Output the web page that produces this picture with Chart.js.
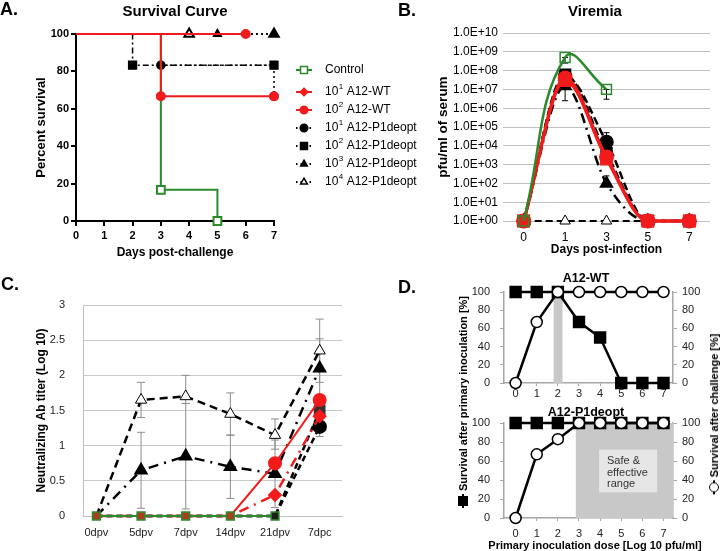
<!DOCTYPE html>
<html>
<head>
<meta charset="utf-8">
<script src="https://cdn.jsdelivr.net/npm/chart.js@4.4.1/dist/chart.umd.min.js"></script>
<style>
  body { margin: 0; background: #fff; font-family: "Liberation Sans", Arial, sans-serif; }
  #wrap { position: relative; width: 720px; height: 551px; overflow: hidden; }
  canvas { position: absolute; }
  .t { position: absolute; white-space: nowrap; color: #000; font-weight: bold; transform: translate(-50%, -50%); }
  .pl { position: absolute; font-weight: bold; font-size: 18px; transform: translate(0, -50%); }
  .rot { transform: translate(-50%, -50%) rotate(-90deg); font-size: 11px; }
  .mk { display: inline-block; position: relative; width: 14px; height: 10px; vertical-align: -1px; margin-right: 3px; }
  .mk:before { content: ""; position: absolute; left: 0; right: 0; top: 4px; height: 2px; background: #000; }
  .mk:after { content: ""; position: absolute; left: 2px; top: 0; width: 10px; height: 10px; background: #000; }
  .mk.o:after { background: #fff; border: 1.5px solid #000; border-radius: 50%; width: 8px; height: 8px; left: 1.5px; }
  .note { position: absolute; font-size: 11px; line-height: 11.5px; color: #333; }
</style>
</head>
<body>
<div id="wrap">
  <canvas id="cA" width="430" height="265" style="left:0;top:0"></canvas>
  <canvas id="cB" width="290" height="265" style="left:430px;top:0"></canvas>
  <canvas id="cC" width="360" height="276" style="left:0;top:275px"></canvas>
  <canvas id="cD1" width="280" height="130" style="left:440px;top:270px"></canvas>
  <canvas id="cD2" width="280" height="140" style="left:440px;top:401px"></canvas>

  <div class="pl" style="left:0;top:9px">A.</div>
  <div class="t" style="left:175px;top:10px;font-size:15px">Survival Curve</div>
  <div class="pl" style="left:398px;top:10px">B.</div>
  <div class="t" style="left:595px;top:10px;font-size:15px">Viremia</div>
  <div class="pl" style="left:1px;top:284px">C.</div>
  <div class="pl" style="left:398px;top:287px">D.</div>
  <div class="t" style="left:586px;top:278px;font-size:12.5px">A12-WT</div>
  <div class="t" style="left:586px;top:412px;font-size:12.5px">A12-P1deopt</div>
  <div class="t" style="left:595px;top:545px;font-size:11px">Primary inoculation dose [Log 10 pfu/ml]</div>
  <div class="t rot" style="left:463px;top:402px"><span class="mk"></span>Survival after primary inoculation [%]</div>
  <div class="t rot" style="left:714px;top:414px"><span class="mk o"></span>Survival after challenge [%]</div>
  <div class="note" style="left:607px;top:455px">Safe &amp;<br>effective<br>range</div>
</div>
<script>
// ---------- A. survival curve (Kaplan-Meier steps)
const ctrlDaysA = [0, 3, 5];
const ctrlSurvA = [100, 16.7, 0];
const wt1DaysA = [0, 6];
const wt1SurvA = [100, 100];
const wt2DaysA = [0, 3, 7];
const wt2SurvA = [100, 66.7, 66.7];
const p1DaysA = [0, 3, 7];
const p1SurvA = [100, 83.3, 66.7];
const p2DaysA = [0, 2, 7];
const p2SurvA = [100, 83.3, 83.3];
const p3DaysA = [0, 5, 7];
const p3SurvA = [100, 100, 100];
const p4DaysA = [0, 4, 7];
const p4SurvA = [100, 100, 100];

// ---------- B. viremia (pfu/ml)
const daysB = ['0', '1', '3', '5', '7'];
const ctrlB = [1, 5e8, 1e7, null, null];
const wt1B = [1, 3e7, 2e3, 1, 1];
const wt2B = [1, 4e7, 2.5e3, 1, 1];
const p1B = [1, 5e7, 1.6e4, 1, 1];
const p2B = [1, 6e7, 4e3, 1, 1];
const p3B = [1, 1.5e7, 1e2, 1, 1];
const p4B = [1, 1, 1, 1, 1];
const ctrlErrB = [null, [2.5e8, 5e8], [3e6, 1e7], null, null];
const p1ErrB = [null, null, [1.6e4, 5e4], null, null];
const p3ErrB = [null, [2.5e6, 1.5e7], [1e2, 2.5e2], null, null];
const yTicksB = [1e0, 1e1, 1e2, 1e3, 1e4, 1e5, 1e6, 1e7, 1e8, 1e9, 1e10];

// ---------- C. neutralizing antibody titer
const daysC = ['0dpv', '5dpv', '7dpv', '14dpv', '21dpv', '7dpc'];
const ctrlC = [0, 0, 0, 0, 0, null];
const wt1C = [0, 0, 0, 0, 0.3, 1.42];
const wt2C = [0, 0, 0, 0, 0.75, 1.65];
const p1C = [0, 0, 0, 0, 0, 1.27];
const p2C = [0, 0, 0, 0, 0, 1.5];
const p3C = [0, 0.65, 0.85, 0.7, 0.6, 2.1];
const p4C = [0, 1.65, 1.7, 1.45, 1.15, 2.35];
const p1ErrC = [null, null, null, null, null, [1.13, 1.4]];
const p3ErrC = [null, [0.11, 1.19], [0.1, 1.6], [0.25, 1.15], [0.12, 1.08], [1.68, 2.52]];
const p4ErrC = [null, [1.4, 1.9], [1.6, 2.0], [1.15, 1.75], [0.95, 1.38], [1.9, 2.8]];

// ---------- D. dose response
const dosesD = [0, 1, 2, 3, 4, 5, 6, 7];
const wtPrimD = [100, 100, 100, 67, 50, 0, 0, 0];
const wtChalD = [0, 67, 100, 100, 100, 100, 100, 100];
const deoptPrimD = [100, 100, 100, 100, 100, 100, 100, 100];
const deoptChalD = [0, 67, 83, 100, 100, 100, 100, 100];
const wtBandD = [1.8, 2.22];
const deoptBandD = [2.85, 8];
const safeBoxD = [3.95, 6.7, 27, 72];

const GREEN = '#2b8a2b';
const RED = '#f21b1b';
Chart.defaults.font.family = '"Liberation Sans", Arial, sans-serif';
Chart.defaults.animation = false;
Chart.defaults.events = [];
Chart.defaults.plugins.legend.display = false;
Chart.defaults.plugins.tooltip.enabled = false;

const pts = (xs, ys) => xs.map((x, i) => ({ x: x, y: ys[i] }));
const skipFirst = r => c => c.dataIndex === 0 ? 0 : r;

function marker(ctx, style, x, y, r, fill, stroke) {
  ctx.beginPath();
  if (style === 'rect') ctx.rect(x - r * 0.7, y - r * 0.7, r * 1.4, r * 1.4);
  else if (style === 'circle') ctx.arc(x, y, r, 0, Math.PI * 2);
  else if (style === 'rectRot') { ctx.moveTo(x, y - r); ctx.lineTo(x + r, y); ctx.lineTo(x, y + r); ctx.lineTo(x - r, y); ctx.closePath(); }
  else { ctx.moveTo(x, y - r); ctx.lineTo(x + r * 0.87, y + r * 0.5); ctx.lineTo(x - r * 0.87, y + r * 0.5); ctx.closePath(); }
  ctx.fillStyle = fill; ctx.fill();
  ctx.lineWidth = 1.5; ctx.strokeStyle = stroke; ctx.stroke();
}

// legend of panel A, drawn to the right of its plot
const legendA = {
  id: 'legendA',
  afterDraw(chart) {
    const ctx = chart.ctx;
    const lx = 304;
    chart.data.datasets.forEach((ds, i) => {
      const y = i === 0 ? 70 : 92 + (i - 1) * 18;
      ctx.save();
      ctx.strokeStyle = ds.borderColor;
      ctx.lineWidth = 2;
      ctx.setLineDash(ds.borderDash ? [1.5, 3] : []);
      ctx.beginPath(); ctx.moveTo(lx - 8, y); ctx.lineTo(lx + 8, y); ctx.stroke();
      ctx.setLineDash([]);
      const style = ds.legendStyle || ds.pointStyle;
      marker(ctx, style, lx, y, style === 'rect' ? 5 : 3.8, ds.pointBackgroundColor, ds.pointBorderColor);
      ctx.fillStyle = '#000';
      ctx.textBaseline = 'middle';
      const m = ds.label.match(/^(\d+)\^(\d)(.*)$/);
      let tx = 325;
      ctx.font = '12px "Liberation Sans", Arial';
      if (m) {
        ctx.fillText(m[1], tx, y); tx += ctx.measureText(m[1]).width + 0.5;
        ctx.font = '8px "Liberation Sans", Arial';
        ctx.fillText(m[2], tx, y - 5); tx += ctx.measureText(m[2]).width;
        ctx.font = '12px "Liberation Sans", Arial';
        ctx.fillText(m[3], tx, y);
      } else {
        ctx.fillText(ds.label, tx, y);
      }
      ctx.restore();
    });
  }
};

// vertical error bars read from dataset.err
const errBars = {
  id: 'errBars',
  beforeDatasetsDraw(chart) {
    const ctx = chart.ctx;
    chart.data.datasets.forEach((ds, di) => {
      if (!ds.err) return;
      const meta = chart.getDatasetMeta(di);
      const ys = chart.scales[meta.yAxisID];
      ctx.save();
      ctx.strokeStyle = ds.errColor || '#000';
      ctx.lineWidth = 1;
      ds.err.forEach((e, i) => {
        if (!e) return;
        const px = meta.data[i].x;
        const a = ys.getPixelForValue(e[0]), b = ys.getPixelForValue(e[1]);
        const w = ds.errCap || 3;
        ctx.beginPath();
        ctx.moveTo(px, a); ctx.lineTo(px, b);
        ctx.moveTo(px - w, a); ctx.lineTo(px + w, a);
        ctx.moveTo(px - w, b); ctx.lineTo(px + w, b);
        ctx.stroke();
      });
      ctx.restore();
    });
  }
};

// shaded rectangles behind the data (panel D)
const bands = {
  id: 'bands',
  beforeDatasetsDraw(chart, args, opts) {
    const { ctx, chartArea: area, scales } = chart;
    (opts.boxes || []).forEach(b => {
      const x0 = Math.max(scales.x.getPixelForValue(b.x0), area.left);
      const x1 = Math.min(scales.x.getPixelForValue(b.x1), area.right);
      const y0 = scales.y.getPixelForValue(b.y1);
      const y1 = scales.y.getPixelForValue(b.y0);
      ctx.fillStyle = b.color;
      ctx.fillRect(x0, y0, x1 - x0, y1 - y0);
    });
  }
};

// ================= A
new Chart(document.getElementById('cA'), {
  type: 'line',
  data: {
    datasets: [
      { label: 'Control', data: pts(ctrlDaysA, ctrlSurvA), borderColor: GREEN, borderWidth: 2, stepped: true,
        pointStyle: 'rect', pointRadius: skipFirst(5.5), pointBackgroundColor: '#fff', pointBorderColor: GREEN, pointBorderWidth: 2, order: 1, clip: false },
      { label: '10^1 A12-WT', data: pts(wt1DaysA, wt1SurvA), borderColor: RED, borderWidth: 2, stepped: true, legendStyle: 'rectRot',
        pointStyle: 'circle', pointRadius: skipFirst(4), pointBackgroundColor: RED, pointBorderColor: RED, order: 0, clip: false },
      { label: '10^2 A12-WT', data: pts(wt2DaysA, wt2SurvA), borderColor: RED, borderWidth: 2, stepped: true,
        pointStyle: 'circle', pointRadius: skipFirst(4), pointBackgroundColor: RED, pointBorderColor: RED, order: 0, clip: false },
      { label: '10^1 A12-P1deopt', data: pts(p1DaysA, p1SurvA), borderColor: '#000', borderWidth: 1.5, borderDash: [2, 3], stepped: true,
        pointStyle: 'circle', pointRadius: skipFirst(4), pointBackgroundColor: '#000', pointBorderColor: '#000', order: 2, clip: false },
      { label: '10^2 A12-P1deopt', data: pts(p2DaysA, p2SurvA), borderColor: '#000', borderWidth: 1.5, borderDash: [6, 3, 2, 3], stepped: true,
        pointStyle: 'rect', pointRadius: skipFirst(5.5), pointBackgroundColor: '#000', pointBorderColor: '#000', order: 2, clip: false },
      { label: '10^3 A12-P1deopt', data: pts(p3DaysA, p3SurvA), borderColor: '#000', borderWidth: 1.5, borderDash: [2, 3], stepped: true,
        pointStyle: 'triangle', pointRadius: skipFirst(4.5), pointBackgroundColor: '#000', pointBorderColor: '#000', order: 2, clip: false },
      { label: '10^4 A12-P1deopt', data: pts(p4DaysA, p4SurvA), borderColor: '#000', borderWidth: 1.5, borderDash: [2, 3], stepped: true,
        pointStyle: 'triangle', pointRadius: skipFirst(5.5), pointBackgroundColor: '#fff', pointBorderColor: '#000', pointBorderWidth: 2, order: 2, clip: false }
    ]
  },
  options: {
    responsive: false,
    layout: { padding: { top: 34, right: 156, left: 0, bottom: 0 } },
    scales: {
      x: {
        type: 'linear', min: 0, max: 7,
        ticks: { stepSize: 1, font: { size: 11, weight: 'bold' }, color: '#000', padding: 3 },
        grid: { drawOnChartArea: false, tickLength: 5, color: '#000', lineWidth: 2 },
        border: { color: '#000', width: 2 },
        title: { display: true, text: 'Days post-challenge', font: { size: 12, weight: 'bold' }, color: '#000', padding: { top: 0, bottom: 5 } },
        afterFit: s => { s.height = 44; }
      },
      y: {
        min: 0, max: 100,
        ticks: { stepSize: 20, font: { size: 11, weight: 'bold' }, color: '#000', padding: 2 },
        grid: { drawOnChartArea: false, tickLength: 5, color: '#000', lineWidth: 2 },
        border: { color: '#000', width: 2 },
        title: { display: true, text: 'Percent survival', font: { size: 13, weight: 'bold' }, color: '#000', padding: { top: 34, bottom: 0 } },
        afterFit: s => { s.width = 76; }
      }
    }
  },
  plugins: [legendA]
});

// ================= B
new Chart(document.getElementById('cB'), {
  type: 'line',
  data: {
    labels: daysB,
    datasets: [
      { data: ctrlB, borderColor: GREEN, borderWidth: 2.5, tension: 0.45, pointStyle: 'rect', pointRadius: 7,
        pointBackgroundColor: 'rgba(0,0,0,0)', pointBorderColor: GREEN, pointBorderWidth: 1.5, order: 0, clip: false,
        err: ctrlErrB },
      { data: wt1B, borderColor: RED, borderWidth: 3, cubicInterpolationMode: 'monotone', pointStyle: 'rect', pointRadius: 7,
        pointBackgroundColor: RED, pointBorderColor: RED, order: 1, clip: false },
      { data: wt2B, borderColor: RED, borderWidth: 3, cubicInterpolationMode: 'monotone', pointStyle: 'circle', pointRadius: 6,
        pointBackgroundColor: RED, pointBorderColor: RED, order: 1, clip: false },
      { data: p1B, borderColor: '#000', borderWidth: 2.5, borderDash: [8, 4], cubicInterpolationMode: 'monotone', pointStyle: 'circle', pointRadius: 6,
        pointBackgroundColor: '#000', pointBorderColor: '#000', order: 2, clip: false, err: p1ErrB },
      { data: p2B, borderColor: '#000', borderWidth: 2.5, borderDash: [8, 4], cubicInterpolationMode: 'monotone', pointStyle: 'rect', pointRadius: 7,
        pointBackgroundColor: '#000', pointBorderColor: '#000', order: 2, clip: false },
      { data: p3B, borderColor: '#000', borderWidth: 2.5, borderDash: [10, 5, 2, 5], cubicInterpolationMode: 'monotone', pointStyle: 'triangle', pointRadius: 6,
        pointBackgroundColor: '#000', pointBorderColor: '#000', order: 2, clip: false, err: p3ErrB },
      { data: p4B, borderColor: '#000', borderWidth: 2, borderDash: [7, 4], pointStyle: 'triangle', pointRadius: 6,
        pointBackgroundColor: '#fff', pointBorderColor: '#000', pointBorderWidth: 1, order: 3, clip: false }
    ]
  },
  options: {
    responsive: false,
    layout: { padding: { top: 33, right: 3, left: 0, bottom: 0 } },
    scales: {
      x: {
        offset: true,
        grid: { display: false, drawTicks: false }, border: { display: false },
        ticks: { font: { size: 12 }, color: '#000', padding: 9 },
        title: { display: true, text: 'Days post-infection', font: { size: 12, weight: 'bold' }, color: '#000', padding: { top: 0, bottom: 8 } },
        afterFit: s => { s.height = 44; }
      },
      y: {
        type: 'logarithmic', min: 1, max: 1e10,
        afterBuildTicks: s => { s.ticks = yTicksB.map(v => ({ value: v })); },
        ticks: { font: { size: 12 }, color: '#000', padding: 5,
          callback: v => '1.0E+' + String(Math.round(Math.log10(v))).padStart(2, '0') },
        grid: { color: '#bfbfbf', drawTicks: false },
        border: { display: false },
        title: { display: true, text: 'pfu/ml of serum', font: { size: 13.5, weight: 'bold' }, color: '#000', padding: { top: 5, bottom: 0 } },
        afterFit: s => { s.width = 73; }
      }
    }
  },
  plugins: [errBars]
});

// ================= C
const idx = ys => ys.map((y, i) => ({ x: i, y: y }));
new Chart(document.getElementById('cC'), {
  type: 'line',
  data: {
    datasets: [
      { data: idx(ctrlC), borderColor: GREEN, borderWidth: 2, pointStyle: 'rect', pointRadius: 5.5,
        pointBackgroundColor: c => c.dataIndex < 4 ? '#a8401f' : '#1e1e1e', pointBorderColor: GREEN, pointBorderWidth: 1.5, order: 0, clip: false },
      { data: idx(wt2C), borderColor: RED, borderWidth: 2, pointStyle: 'circle', pointRadius: c => c.raw.y === 0 ? 0 : 6,
        pointBackgroundColor: RED, pointBorderColor: RED, order: 1, clip: false },
      { data: idx(wt1C), borderColor: RED, borderWidth: 2.5, borderDash: [10, 6, 2, 6], pointStyle: 'rectRot', pointRadius: c => c.raw.y === 0 ? 0 : 5.5,
        pointBackgroundColor: RED, pointBorderColor: RED, order: 1, clip: false },
      { data: idx(p1C), borderColor: '#000', borderWidth: 2.5, borderDash: [6, 4], pointStyle: 'circle', pointRadius: c => c.raw.y === 0 ? 0 : 6,
        pointBackgroundColor: '#000', pointBorderColor: '#000', order: 2, clip: false, err: p1ErrC, errColor: '#8c8c8c', errCap: 4 },
      { data: idx(p2C), borderColor: '#000', borderWidth: 2.5, borderDash: [6, 4], pointStyle: 'rect', pointRadius: c => c.raw.y === 0 ? 0 : 6.5,
        pointBackgroundColor: '#333', pointBorderColor: '#333', order: 2, clip: false },
      { data: idx(p3C), borderColor: '#000', borderWidth: 2.5, borderDash: [10, 6, 2, 6], pointStyle: 'triangle', pointRadius: c => c.dataIndex === 0 ? 0 : 6,
        pointBackgroundColor: '#000', pointBorderColor: '#000', order: 2, clip: false, err: p3ErrC, errColor: '#8c8c8c', errCap: 4 },
      { data: idx(p4C), borderColor: '#000', borderWidth: 2.5, borderDash: [8, 5], pointStyle: 'triangle', pointRadius: c => c.dataIndex === 0 ? 0 : 6.5,
        pointBackgroundColor: '#fff', pointBorderColor: '#000', pointBorderWidth: 1, order: 3, clip: false, err: p4ErrC, errColor: '#8c8c8c', errCap: 4 }
    ]
  },
  options: {
    responsive: false,
    layout: { padding: { top: 30, right: 18, left: 0, bottom: 0 } },
    scales: {
      x: {
        type: 'linear', min: -0.3, max: 5.5,
        afterBuildTicks: s => { s.ticks = daysC.map((_, i) => ({ value: i })); },
        ticks: { callback: v => daysC[v], font: { size: 11 }, color: '#222', padding: 10, autoSkip: false, maxRotation: 0 },
        grid: { display: false, drawTicks: false }, border: { color: '#bfbfbf' },
        afterFit: s => { s.height = 35; }
      },
      y: {
        min: 0, max: 3,
        ticks: { stepSize: 0.5, font: { size: 11 }, color: '#222', padding: 18, callback: v => String(v) },
        grid: { color: '#c8c8c8', drawTicks: false }, border: { color: '#bfbfbf' },
        title: { display: true, text: 'Neutralizing Ab titer (Log 10)', font: { size: 12, weight: 'bold' }, color: '#000', padding: { top: 34, bottom: 0 } },
        afterFit: s => { s.width = 83; }
      }
    }
  },
  plugins: [errBars]
});

// ================= D (two stacked plots)
function doseChart(id, prim, chal, boxes, xHeight, xPad) {
  const axisGray = '#a6a6a6';
  const yAxis = (pos, pad, w) => ({
    position: pos, min: 0, max: 100,
    ticks: { stepSize: 20, font: { size: 11 }, color: '#222', padding: pad },
    grid: { drawOnChartArea: false, tickLength: 4, color: axisGray },
    border: { color: axisGray, width: 1.5 },
    afterFit: s => { s.width = w; }
  });
  return new Chart(document.getElementById(id), {
    type: 'line',
    data: {
      datasets: [
        { data: pts(dosesD, chal), yAxisID: 'y2', borderColor: '#000', borderWidth: 2.5, pointStyle: 'circle', pointRadius: 5.5,
          pointBackgroundColor: '#fff', pointBorderColor: '#000', pointBorderWidth: 1.5, clip: false },
        { data: pts(dosesD, prim), yAxisID: 'y', borderColor: '#000', borderWidth: 2.5, pointStyle: 'rect', pointRadius: 7,
          pointBackgroundColor: '#000', pointBorderColor: '#000', clip: false }
      ]
    },
    options: {
      responsive: false,
      layout: { padding: { top: 22, right: 0, left: 0, bottom: 0 } },
      plugins: { bands: { boxes: boxes } },
      scales: {
        x: {
          type: 'linear', min: -0.55, max: 7.45,
          afterBuildTicks: s => { s.ticks = dosesD.map(v => ({ value: v })); },
          ticks: { font: { size: 11 }, color: '#222', padding: xPad },
          grid: { drawOnChartArea: false, tickLength: 3, color: axisGray },
          border: { color: axisGray, width: 1.5 },
          afterFit: s => { s.height = xHeight; }
        },
        y: yAxis('left', 10, 64),
        y2: yAxis('right', 5, 47)
      }
    },
    plugins: [bands]
  });
}

doseChart('cD1', wtPrimD, wtChalD,
  [{ x0: wtBandD[0], x1: wtBandD[1], y0: 0, y1: 100, color: '#c8c8c8' }], 17, 1);
doseChart('cD2', deoptPrimD, deoptChalD,
  [{ x0: deoptBandD[0], x1: deoptBandD[1], y0: 0, y1: 100, color: '#c8c8c8' },
   { x0: safeBoxD[0], x1: safeBoxD[1], y0: safeBoxD[2], y1: safeBoxD[3], color: '#e6e6e6' }], 23, 6);
</script>
</body>
</html>
